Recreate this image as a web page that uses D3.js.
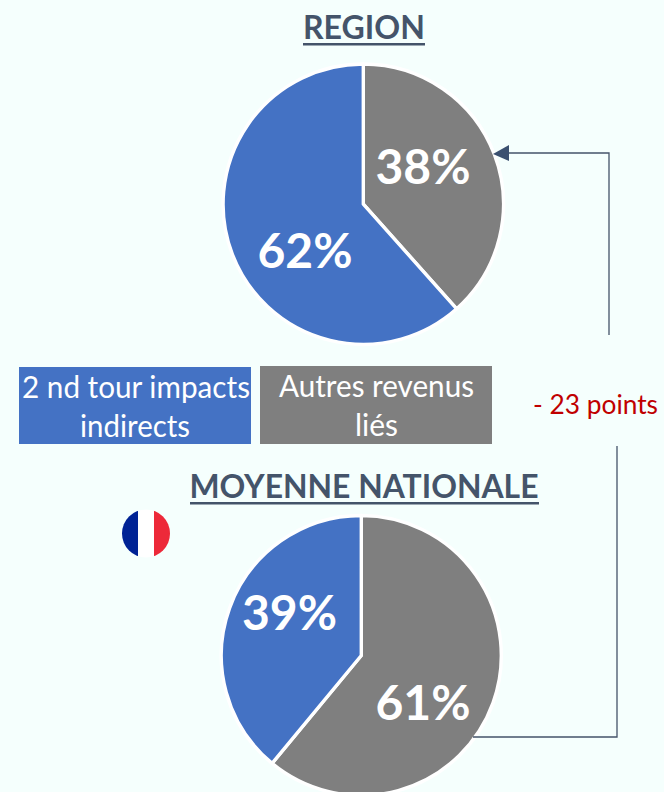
<!DOCTYPE html>
<html><head><meta charset="utf-8">
<script src="https://cdn.jsdelivr.net/npm/d3@7"></script>
<style>html,body{margin:0;padding:0;background:#f5fffd;overflow:hidden}svg{display:block}text{font-family:Lato,"Open Sans",sans-serif}</style>
</head><body>
<svg id="c" width="664" height="792"></svg>
<script>
const categories = ["Autres revenus liés", "2 nd tour impacts indirects"];
const regionValues = [38.4, 61.6];
const nationalValues = [61, 39];
const pieTitles = ["REGION", "MOYENNE NATIONALE"];
const legendLines = [["2 nd tour impacts", "indirects"], ["Autres revenus", "liés"]];
const deltaLabel = "- 23 points";
const flagColors = ["#002395", "#ffffff", "#ED2939"];

const svg = d3.select("#c");
const color = d3.scaleOrdinal().domain(categories).range(["#7f7f7f", "#4472c4"]);
const pie = d3.pie().sort(null);
const ink = "#44546a";
const pct = v => d3.format(".0f")(v) + "%";

function drawPie(values, cx, cy, r, labelPos) {
  const g = svg.append("g").attr("transform", `translate(${cx},${cy})`);
  const arc = d3.arc().innerRadius(0).outerRadius(r);
  g.selectAll("path").data(pie(values)).join("path")
    .attr("d", arc)
    .attr("fill", (d, i) => color(categories[i]))
    .attr("stroke", "#fff").attr("stroke-width", 3.4).attr("stroke-linejoin", "round");
  g.selectAll("text").data(values).join("text")
    .attr("x", (d, i) => labelPos[i][0]).attr("y", (d, i) => labelPos[i][1])
    .attr("text-anchor", "middle").attr("fill", "#fff")
    .attr("font-size", 48).attr("font-weight", 700)
    .text(pct);
}
drawPie(regionValues, 363.3, 204.2, 140.2, [[59.7, -20], [-58.3, 64]]);
drawPie(nationalValues, 361.3, 655.5, 140, [[61.7, 64], [-71.8, -26]]);

// titles
[[364, 39, 122, 303, pieTitles[0]], [364, 498, 349, 190, pieTitles[1]]].forEach(([x, y, w, x0, t]) => {
  svg.append("text").attr("x", x).attr("y", y).attr("text-anchor", "middle")
    .attr("font-size", 32).attr("font-weight", 700).attr("fill", ink)
    .attr("textLength", w).attr("lengthAdjust", "spacingAndGlyphs").text(t);
  svg.append("rect").attr("x", x0).attr("y", y + 4).attr("width", w).attr("height", 2.5).attr("fill", ink);
});

// legend boxes
[[19, 367, 232, 77, categories[1], legendLines[0], [136, 135], [398, 437], [228, 110]],
 [260, 366, 232, 78, categories[0], legendLines[1], [376.5, 376.5], [397, 436], [195, 43]]].forEach(([x, y, w, h, c, lines, xs, ys, ws]) => {
  svg.append("rect").attr("x", x).attr("y", y).attr("width", w).attr("height", h).attr("fill", color(c));
  lines.forEach((l, i) => svg.append("text").attr("x", xs[i]).attr("y", ys[i])
    .attr("text-anchor", "middle").attr("fill", "#fff").attr("font-size", 30)
    .attr("textLength", ws[i]).attr("lengthAdjust", "spacingAndGlyphs").text(l));
});

// delta label
svg.append("text").attr("x", 595.5).attr("y", 414).attr("text-anchor", "middle")
  .attr("fill", "#c00000").attr("font-size", 27)
  .attr("textLength", 125).attr("lengthAdjust", "spacingAndGlyphs").text(deltaLabel);

// connectors
const line = d3.line();
svg.append("path").attr("d", line([[609, 335], [609, 153], [506, 153]]))
  .attr("fill", "none").attr("stroke", ink).attr("stroke-width", 1.3);
svg.append("path").attr("d", line([[493, 154], [509, 145], [509, 161]]) + "Z").attr("fill", "#3b5070");
svg.append("path").attr("d", line([[617, 446], [617, 737], [473, 737]]))
  .attr("fill", "none").attr("stroke", ink).attr("stroke-width", 1.3);

// flag
const defs = svg.append("defs");
defs.append("clipPath").attr("id", "fl").append("circle").attr("cx", 146).attr("cy", 533.5).attr("r", 24);
const flagX = d3.scaleBand().domain(d3.range(3)).range([122, 170]);
svg.append("g").attr("clip-path", "url(#fl)").selectAll("rect").data(flagColors).join("rect")
  .attr("x", (d, i) => flagX(i)).attr("y", 509).attr("width", flagX.bandwidth()).attr("height", 49).attr("fill", d => d);
</script>
</body></html>
